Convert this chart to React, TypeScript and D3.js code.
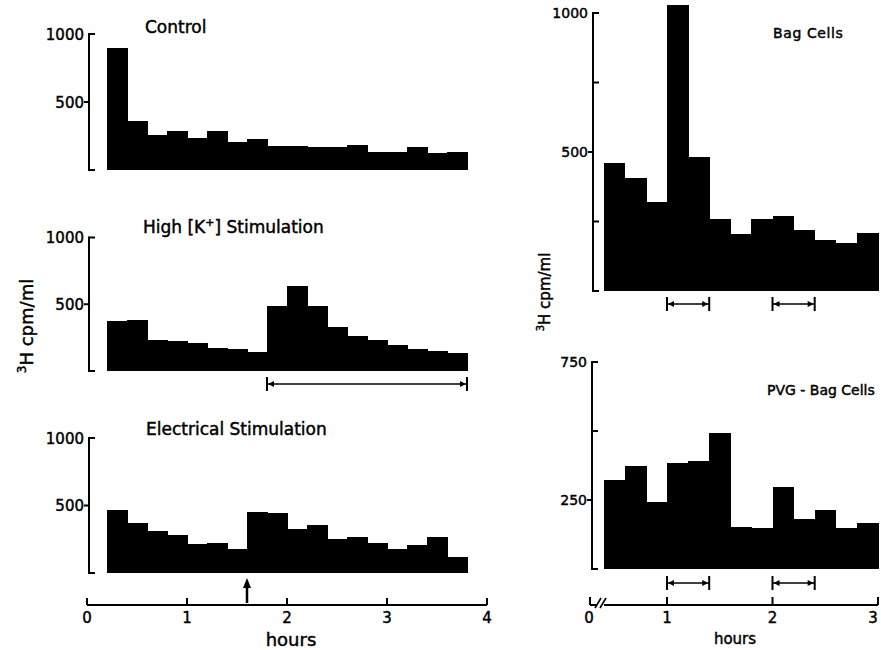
import * as d3 from "d3";

// bin start times (hours), each bin is 0.2 h wide
const leftBins = [0.2, 0.4, 0.6, 0.8, 1.0, 1.2, 1.4, 1.6, 1.8, 2.0, 2.2, 2.4, 2.6, 2.8, 3.0, 3.2, 3.4, 3.6];
const rightBins = [0.4, 0.6, 0.8, 1.0, 1.2, 1.4, 1.6, 1.8, 2.0, 2.2, 2.4, 2.6, 2.8];
const binWidth = 0.2;

// 3H cpm/ml
const controlValues = [900, 360, 260, 290, 234, 290, 205, 227, 177, 177, 167, 167, 182, 135, 135, 170, 123, 135];
const highKValues = [373, 380, 231, 226, 211, 169, 164, 144, 485, 634, 485, 331, 261, 231, 192, 164, 149, 137];
const electricalValues = [470, 370, 313, 283, 213, 220, 175, 453, 445, 328, 358, 253, 270, 220, 178, 208, 265, 120];
const bagCellValues = [460, 405, 319, 1030, 482, 260, 206, 260, 269, 221, 182, 172, 208];
const pvgBagCellValues = [322, 373, 242, 383, 392, 492, 153, 150, 298, 181, 214, 150, 168];

// stimulation periods (hours)
const highKPeriod = [[1.8, 3.8]];
const bagCellPeriods = [[1.0, 1.4], [2.0, 2.4]];
const electricalArrowAt = 1.6;

const leftHourTicks = [0, 1, 2, 3, 4];
const rightHourTicks = [1, 2, 3];

const FONT = "DejaVu Sans";
// scanned type is heavier than the regular face
const ink = { fill: "black", stroke: "black", strokeWidth: 0.45 };

const xLeft = d3.scaleLinear().domain([0, 4]).range([87, 487]);
const xRight = d3.scaleLinear().domain([1, 3]).range([667, 878]);

type Tick = { v: number; dir: "in" | "out"; label?: string };

function Bars({ bins, values, x, y }) {
  return (
    <g fill="black" shapeRendering="crispEdges">
      {values.map((v, i) => (
        <rect
          key={i}
          x={x(bins[i])}
          y={y(v)}
          width={x(bins[i] + binWidth) - x(bins[i]) + 0.6}
          height={y(0) - y(v)}
        />
      ))}
    </g>
  );
}

function YAxis({ x, y, ticks, fontSize }: { x: number; y: any; ticks: Tick[]; fontSize: number }) {
  const [lo, hi] = y.domain();
  return (
    <g>
      <line x1={x} x2={x} y1={y(lo) + 1} y2={y(hi) - 1} stroke="black" strokeWidth={2} />
      {ticks.map((t, i) => (
        <g key={i}>
          <line
            x1={x}
            x2={t.dir === "in" ? x + 6 : x - 5}
            y1={y(t.v)}
            y2={y(t.v)}
            stroke="black"
            strokeWidth={2}
          />
          {t.label && (
            <text
              x={x - 5}
              y={y(t.v)}
              dy="0.38em"
              textAnchor="end"
              fontFamily={FONT}
              fontSize={fontSize}
              {...ink}
            >
              {t.label}
            </text>
          )}
        </g>
      ))}
    </g>
  );
}

function Interval({ x1, x2, y }) {
  const h = 7;
  const a = 6;
  return (
    <g stroke="black" strokeWidth={1.6} fill="black">
      <line x1={x1} x2={x2} y1={y} y2={y} />
      <line x1={x1} x2={x1} y1={y - h} y2={y + h} strokeWidth={2} />
      <line x1={x2} x2={x2} y1={y - h} y2={y + h} strokeWidth={2} />
      <path d={`M${x1 + 1},${y} L${x1 + 1 + a},${y - 3} L${x1 + 1 + a},${y + 3} Z`} stroke="none" />
      <path d={`M${x2 - 1},${y} L${x2 - 1 - a},${y - 3} L${x2 - 1 - a},${y + 3} Z`} stroke="none" />
    </g>
  );
}

export default function App() {
  const yControl = d3.scaleLinear().domain([0, 1000]).range([170, 34]);
  const yHighK = d3.scaleLinear().domain([0, 1000]).range([371, 237.5]);
  const yElec = d3.scaleLinear().domain([0, 1000]).range([573, 438]);
  const yBag = d3.scaleLinear().domain([0, 1000]).range([291, 13]);
  const yPvg = d3.scaleLinear().domain([0, 750]).range([569, 362]);

  const leftTicks: Tick[] = [
    { v: 0, dir: "in" },
    { v: 500, dir: "out", label: "500" },
    { v: 1000, dir: "in", label: "1000" },
  ];
  const bagTicks: Tick[] = [
    { v: 0, dir: "in" },
    { v: 250, dir: "in" },
    { v: 500, dir: "out", label: "500" },
    { v: 750, dir: "in" },
    { v: 1000, dir: "in", label: "1000" },
  ];
  const pvgTicks: Tick[] = [
    { v: 0, dir: "in" },
    { v: 250, dir: "out", label: "250" },
    { v: 500, dir: "in" },
    { v: 750, dir: "in", label: "750" },
  ];

  const axisY = 605;
  const ax = xLeft(electricalArrowAt);

  return (
    <svg
      width={881}
      height={650}
      viewBox="0 0 881 650"
      style={{ position: "absolute", left: 0, top: 0, background: "white" }}
    >
      {/* ----- left column ----- */}
      <text x={145} y={33} fontFamily={FONT} fontSize={17} {...ink}>Control</text>
      <Bars bins={leftBins} values={controlValues} x={xLeft} y={yControl} />
      <YAxis x={89} y={yControl} ticks={leftTicks} fontSize={15} />

      <text x={143} y={233} fontFamily={FONT} fontSize={17} {...ink}>
        High  [K<tspan dy={-7} fontSize={11}>+</tspan><tspan dy={7}>]</tspan> Stimulation
      </text>
      <Bars bins={leftBins} values={highKValues} x={xLeft} y={yHighK} />
      <YAxis x={89} y={yHighK} ticks={leftTicks} fontSize={15} />
      {highKPeriod.map(([a, b], i) => (
        <Interval key={i} x1={xLeft(a)} x2={xLeft(b)} y={384} />
      ))}

      <text x={146} y={435} fontFamily={FONT} fontSize={17} {...ink}>Electrical  Stimulation</text>
      <Bars bins={leftBins} values={electricalValues} x={xLeft} y={yElec} />
      <YAxis x={89} y={yElec} ticks={leftTicks} fontSize={15} />
      <g>
        <line x1={ax} x2={ax} y1={603} y2={586} stroke="black" strokeWidth={2.5} />
        <path d={`M${ax},${578} L${ax - 4},${588} L${ax + 4},${588} Z`} fill="black" />
      </g>

      {/* left hours axis */}
      <g stroke="black" strokeWidth={2}>
        <line x1={xLeft(0)} x2={xLeft(4)} y1={axisY} y2={axisY} />
        {leftHourTicks.map((h) => (
          <line key={h} x1={xLeft(h)} x2={xLeft(h)} y1={axisY} y2={axisY - 7} />
        ))}
      </g>
      {leftHourTicks.map((h) => (
        <text key={h} x={xLeft(h)} y={623} textAnchor="middle" fontFamily={FONT} fontSize={15} {...ink}>
          {h}
        </text>
      ))}
      <text x={291} y={646} textAnchor="middle" fontFamily={FONT} fontSize={18} {...ink}>hours</text>

      <text
        transform="translate(33,326) rotate(-90)"
        textAnchor="middle"
        fontFamily={FONT}
        fontSize={18}
        {...ink}
      >
        <tspan fontSize={12} dy={-7}>3</tspan>
        <tspan dy={7}>H cpm/ml</tspan>
      </text>

      {/* ----- right column ----- */}
      <text x={773} y={38} fontFamily={FONT} fontSize={14} letterSpacing={0.6} {...ink}>Bag Cells</text>
      <Bars bins={rightBins} values={bagCellValues} x={xRight} y={yBag} />
      <YAxis x={593} y={yBag} ticks={bagTicks} fontSize={14} />
      {bagCellPeriods.map(([a, b], i) => (
        <Interval key={i} x1={xRight(a)} x2={xRight(b)} y={304} />
      ))}

      <text x={767} y={395} fontFamily={FONT} fontSize={14} {...ink}>PVG - Bag Cells</text>
      <Bars bins={rightBins} values={pvgBagCellValues} x={xRight} y={yPvg} />
      <YAxis x={592} y={yPvg} ticks={pvgTicks} fontSize={14} />
      {bagCellPeriods.map(([a, b], i) => (
        <Interval key={i} x1={xRight(a)} x2={xRight(b)} y={583} />
      ))}

      {/* right hours axis with break */}
      <g stroke="black" strokeWidth={2} fill="none">
        <line x1={590} x2={590} y1={597} y2={605} />
        <line x1={590} x2={596} y1={605} y2={605} />
        <line x1={595} x2={601} y1={608} y2={598} strokeWidth={1.6} />
        <line x1={600} x2={606} y1={608} y2={598} strokeWidth={1.6} />
        <line x1={604} x2={xRight(3)} y1={605} y2={605} />
        {rightHourTicks.map((h) => (
          <line key={h} x1={xRight(h)} x2={xRight(h)} y1={605} y2={597} />
        ))}
      </g>
      <text x={589} y={623} textAnchor="middle" fontFamily={FONT} fontSize={15} {...ink}>0</text>
      {rightHourTicks.map((h) => (
        <text
          key={h}
          x={Math.min(xRight(h), 873)}
          y={623}
          textAnchor="middle"
          fontFamily={FONT}
          fontSize={15}
          {...ink}
        >
          {h}
        </text>
      ))}
      <text x={735} y={644} textAnchor="middle" fontFamily={FONT} fontSize={15} {...ink}>hours</text>

      <text
        transform="translate(550,292) rotate(-90)"
        textAnchor="middle"
        fontFamily={FONT}
        fontSize={15}
        {...ink}
      >
        <tspan fontSize={10} dy={-6}>3</tspan>
        <tspan dy={6}>H cpm/ml</tspan>
      </text>
    </svg>
  );
}
